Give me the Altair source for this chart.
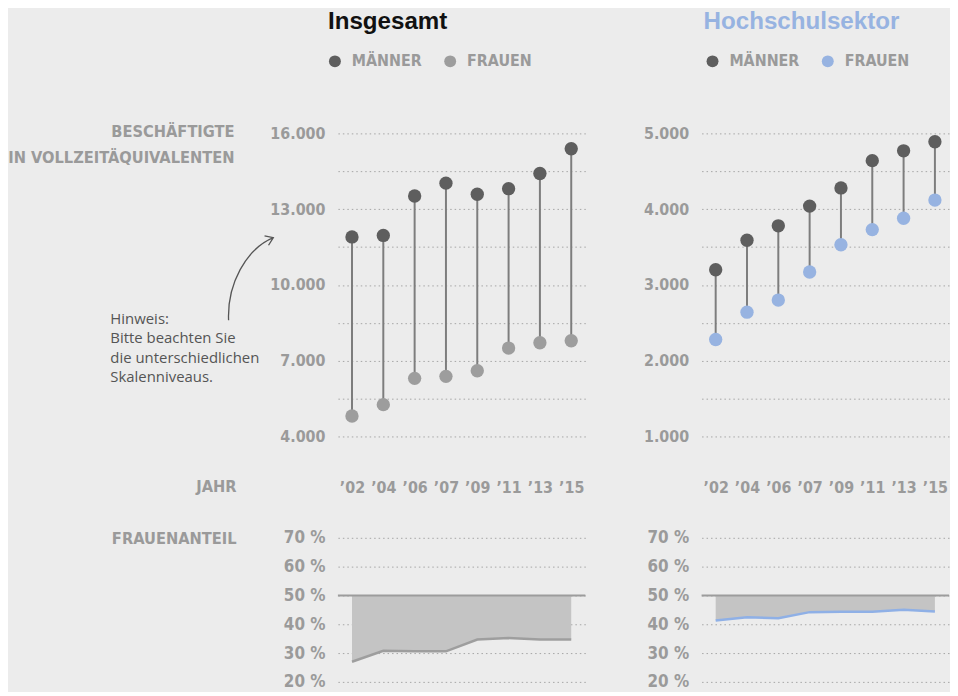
import altair as alt
import pandas as pd

# ---------------- data ----------------
years = ["’02", "’04", "’06", "’07", "’09", "’11", "’13", "’15"]
gesamt_maenner = [11900, 11960, 13520, 14030, 13590, 13810, 14410, 15390]
gesamt_frauen = [4810, 5260, 6300, 6380, 6600, 7500, 7710, 7790]
hs_maenner = [3200, 3590, 3780, 4040, 4280, 4640, 4770, 4890]
hs_frauen = [2280, 2640, 2800, 3170, 3530, 3730, 3880, 4120]
anteil_gesamt = [27.0, 30.8, 30.6, 30.6, 34.7, 35.2, 34.7, 34.7]
anteil_hs = [41.3, 42.4, 42.1, 44.2, 44.3, 44.3, 45.0, 44.4]
sexes = ["MÄNNER", "FRAUEN"]
ticks_gesamt = [4000, 5500, 7000, 8500, 10000, 11500, 13000, 14500, 16000]
ticks_hs = [1000, 1500, 2000, 2500, 3000, 3500, 4000, 4500, 5000]
ticks_anteil = [20, 30, 40, 50, 60, 70]

# ---------------- style ----------------
BG = "#ececec"
COND = "'Liberation Sans Narrow', 'DejaVu Sans Condensed', 'Roboto Condensed', Roboto, sans-serif"
SANS = "'Open Sans', 'Liberation Sans', Arial, sans-serif"
TITLEF = "'Liberation Sans', Arial, sans-serif"
GREY_TXT = "#9a9a9a"
MALE = "#5e5e5e"
FEMALE_G = "#9d9d9d"
FEMALE_B = "#97b3e1"
CONNECT = "#7d7d7d"
W, H_TOP, H_BOT = 249, 305, 145


def wide(m, f):
    return pd.DataFrame({"Jahr": years, "m": m, "f": f})


def long(m, f):
    rows = []
    for y, a, b in zip(years, m, f):
        rows.append({"Jahr": y, "Geschlecht": sexes[0], "Wert": a})
        rows.append({"Jahr": y, "Geschlecht": sexes[1], "Wert": b})
    return pd.DataFrame(rows)


def label(txt, x, y, align="right", font=COND, size=16.4, color=GREY_TXT,
          weight="bold", line_height=None):
    kw = dict(align=align, baseline="alphabetic", font=font, fontSize=size,
              fontWeight=weight, color=color, lineBreak="\n")
    if line_height:
        kw["lineHeight"] = line_height
    return alt.Chart(pd.DataFrame({"t": [txt]})).mark_text(**kw).encode(
        x=alt.value(x), y=alt.value(y), text="t:N")


def x_enc(show_axis):
    axis = alt.Axis(orient="bottom", domain=False, ticks=False, grid=False,
                    labelPadding=51, labelBaseline="middle", labelAngle=0,
                    labelFont=COND, labelFontSize=16, labelFontWeight="bold",
                    labelColor=GREY_TXT, title=None) if show_axis else None
    return alt.X("Jahr:N", sort=years,
                 scale=alt.Scale(type="point", domain=years, padding=0.45),
                 axis=axis)


def y_axis(values, expr, size):
    return alt.Axis(values=values, labelExpr=expr, grid=True, gridDash=[1.5, 3],
                    gridColor="#a5a5a5", gridWidth=1, domain=False, ticks=False,
                    labelPadding=13, labelFont=COND, labelFontSize=size,
                    labelFontWeight="bold", labelColor=GREY_TXT, title=None)


def dumbbell(m, f, dom, ticks, expr, female_color, legend_x):
    yscale = alt.Scale(domain=dom, nice=False, zero=False)
    rules = alt.Chart(wide(m, f)).mark_rule(color=CONNECT, strokeWidth=2).encode(
        x=x_enc(True),
        y=alt.Y("m:Q", scale=yscale, axis=y_axis(ticks, expr, 16)),
        y2="f:Q")
    pts = alt.Chart(long(m, f)).mark_circle(size=180, opacity=1).encode(
        x=x_enc(True),
        y=alt.Y("Wert:Q", scale=yscale, axis=y_axis(ticks, expr, 16)),
        color=alt.Color("Geschlecht:N",
                        scale=alt.Scale(domain=sexes, range=[MALE, female_color]),
                        legend=alt.Legend(orient="none", legendX=legend_x, legendY=-80.5,
                                          direction="horizontal", title=None,
                                          symbolType="circle", symbolSize=144,
                                          symbolStrokeWidth=0, padding=0,
                                          labelFont=COND, labelFontSize=16,
                                          labelFontWeight="bold", labelColor=GREY_TXT,
                                          labelOffset=9, columnPadding=20)))
    return rules, pts


def share(vals, line_color):
    df = pd.DataFrame({"Jahr": years, "Anteil": vals})
    yscale = alt.Scale(domain=[20, 70], nice=False, zero=False)
    ax = y_axis(ticks_anteil, "datum.value + ' %'", 17)
    area = alt.Chart(df).mark_area(color="#c4c4c4", opacity=1).encode(
        x=x_enc(False), y=alt.Y("Anteil:Q", scale=yscale, axis=ax), y2=alt.datum(50))
    line = alt.Chart(df).mark_line(color=line_color, strokeWidth=2.5).encode(
        x=x_enc(False), y=alt.Y("Anteil:Q", scale=yscale, axis=ax))
    half = alt.Chart(pd.DataFrame({"v": [50]})).mark_rule(
        color="#9c9c9c", strokeWidth=2).encode(y=alt.Y("v:Q", scale=yscale, axis=ax))
    return area, line, half


fmt_g = "datum.value % 3000 == 1000 ? replace(format(datum.value, ','), ',', '.') : ''"
fmt_h = "datum.value % 1000 == 0 ? replace(format(datum.value, ','), ',', '.') : ''"

ARROW = ("M-0.536,0.988 C-0.571,0.119 -0.119,-0.714 0.536,-0.988 "
         "M0.326,-1.033 L0.536,-0.988 L0.421,-0.807")

r1, p1 = dumbbell(gesamt_maenner, gesamt_frauen, [4000, 16000], ticks_gesamt, fmt_g,
                  FEMALE_G, -11)
# invisible left anchor so the chart's left edge is fixed
anchor = alt.Chart(pd.DataFrame({"a": [0]})).mark_square(size=1, color=BG, opacity=1).encode(
    x=alt.value(-330), y=alt.value(0))
arrow = alt.Chart(pd.DataFrame({"a": [0]})).mark_point(
    shape=ARROW, filled=False, size=7056, color="#555555", strokeWidth=1.3, opacity=1
).encode(x=alt.value(-87.5), y=alt.value(146.5))

top_left = alt.layer(
    r1, p1, anchor, arrow,
    label("Insgesamt", -10, -104.7, align="left", font=TITLEF, size=24.3, color="#111111"),
    label("BESCHÄFTIGTE\nIN VOLLZEITÄQUIVALENTEN", -104, 4, line_height=25.7),
    label("JAHR", -102, 361),
    label("Hinweis:\nBitte beachten Sie\ndie unterschiedlichen\nSkalenniveaus.", -229, 192,
          align="left", font=SANS, size=15, color="#555555", weight="normal",
          line_height=19.3),
).properties(width=W, height=H_TOP)

r2, p2 = dumbbell(hs_maenner, hs_frauen, [1000, 5000], ticks_hs, fmt_h, FEMALE_B, 3)
top_right = alt.layer(
    r2, p2,
    label("Hochschulsektor", 2, -104.7, align="left", font=TITLEF, size=24.3, color=FEMALE_B),
).properties(width=W, height=H_TOP)

a1, l1, h1 = share(anteil_gesamt, "#9e9e9e")
bottom_left = alt.layer(a1, l1, h1, label("FRAUENANTEIL", -102, 6)).properties(
    width=W, height=H_BOT)

a2, l2, h2 = share(anteil_hs, "#8fb0e6")
bottom_right = alt.layer(a2, l2, h2).properties(width=W, height=H_BOT)

chart = alt.concat(
    top_left, top_right, bottom_left, bottom_right,
    columns=2, spacing={"row": 102, "column": 117}, bounds="flush",
).resolve_scale(
    x="independent", y="independent", color="independent"
).properties(
    padding=0, background=BG,
).configure_view(stroke=None)

chart.save("out.html", embed_options={"renderer": "svg", "actions": False})
